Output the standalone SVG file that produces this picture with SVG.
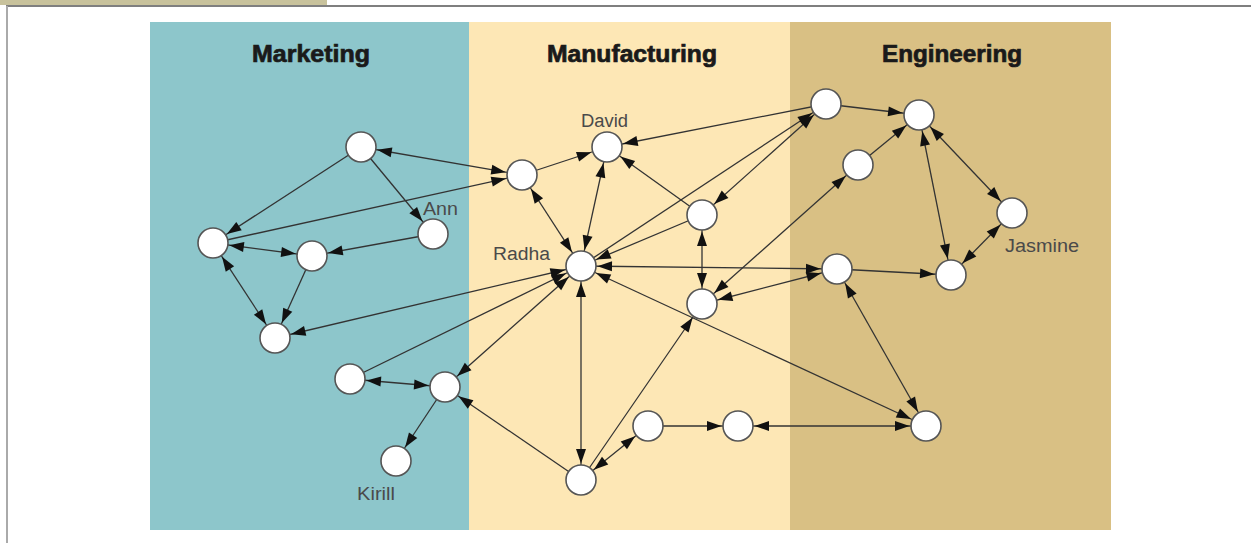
<svg xmlns="http://www.w3.org/2000/svg" width="1251" height="543" viewBox="0 0 1251 543">
<style>
.hdr{font-family:"Liberation Sans",Arial,sans-serif;font-weight:bold;font-size:23px;fill:#1a1a1a;stroke:#1a1a1a;stroke-width:0.7;text-anchor:middle}
.lbl{font-family:"Liberation Sans",Arial,sans-serif;font-size:18px;fill:#4a4a4a}
.node{fill:#ffffff;stroke:#555555;stroke-width:1.6}
#connectors line{stroke:#333333;stroke-width:1.3;fill:none}
.e{marker-end:url(#arr)}
.b{marker-end:url(#arr);marker-start:url(#arr)}
</style>
<defs>
<marker id="arr" viewBox="-16 -7 33 14" refX="16.5" refY="0" markerWidth="33" markerHeight="14" markerUnits="userSpaceOnUse" orient="auto-start-reverse">
<path d="M-14.5,-5 L0,0 L-14.5,5 Z" fill="#111111"/>
</marker>
</defs>
<rect x="0" y="0" width="1251" height="543" fill="#ffffff"/>
<rect x="0" y="0" width="327" height="5" fill="#c8c29c"/>
<line x1="6" y1="6" x2="1251" y2="6" stroke="#555555" stroke-width="1.5"/>
<line x1="7" y1="6" x2="7" y2="543" stroke="#aaaaaa" stroke-width="2"/>
<g id="panels">
<rect x="150" y="22" width="319" height="508" fill="#8dc6cb"/>
<rect x="469" y="22" width="321" height="508" fill="#fde7b5"/>
<rect x="790" y="22" width="321" height="508" fill="#d9c084"/>
<text class="hdr" x="311" y="62" textLength="118" lengthAdjust="spacingAndGlyphs">Marketing</text>
<text class="hdr" x="632" y="62" textLength="170" lengthAdjust="spacingAndGlyphs">Manufacturing</text>
<text class="hdr" x="952" y="62" textLength="140" lengthAdjust="spacingAndGlyphs">Engineering</text>
</g>
<g id="connectors">
<line class="e" x1="361" y1="147" x2="213" y2="243"/>
<line class="e" x1="361" y1="147" x2="433" y2="234"/>
<line class="e" x1="433" y1="234" x2="312" y2="256"/>
<line class="b" x1="213" y1="243" x2="312" y2="256"/>
<line class="b" x1="213" y1="243" x2="275" y2="338"/>
<line class="e" x1="312" y1="256" x2="275" y2="338"/>
<line class="e" x1="213" y1="243" x2="522" y2="175"/>
<line class="b" x1="361" y1="147" x2="522" y2="175"/>
<line class="b" x1="581" y1="266" x2="275" y2="338"/>
<line class="e" x1="350" y1="379" x2="581" y2="266"/>
<line class="b" x1="445" y1="387" x2="581" y2="266"/>
<line class="b" x1="350" y1="379" x2="445" y2="387"/>
<line class="e" x1="445" y1="387" x2="396" y2="461"/>
<line class="e" x1="581" y1="480" x2="445" y2="387"/>
<line class="e" x1="522" y1="175" x2="607" y2="147"/>
<line class="b" x1="522" y1="175" x2="581" y2="266"/>
<line class="b" x1="607" y1="147" x2="581" y2="266"/>
<line class="e" x1="826" y1="104" x2="607" y2="147"/>
<line class="e" x1="702" y1="215" x2="607" y2="147"/>
<line class="e" x1="702" y1="215" x2="581" y2="266"/>
<line class="e" x1="581" y1="266" x2="826" y2="104"/>
<line class="b" x1="702" y1="215" x2="826" y2="104"/>
<line class="b" x1="702" y1="304" x2="858" y2="165"/>
<line class="e" x1="826" y1="104" x2="919" y2="115"/>
<line class="e" x1="858" y1="165" x2="919" y2="115"/>
<line class="b" x1="919" y1="115" x2="1012" y2="213"/>
<line class="b" x1="919" y1="115" x2="951" y2="275"/>
<line class="b" x1="1012" y1="213" x2="951" y2="275"/>
<line class="e" x1="837" y1="269" x2="951" y2="275"/>
<line class="b" x1="581" y1="266" x2="837" y2="269"/>
<line class="b" x1="702" y1="304" x2="837" y2="269"/>
<line class="b" x1="702" y1="215" x2="702" y2="304"/>
<line class="e" x1="581" y1="480" x2="702" y2="304"/>
<line class="b" x1="581" y1="480" x2="648" y2="426"/>
<line class="b" x1="581" y1="266" x2="581" y2="480"/>
<line class="e" x1="648" y1="426" x2="738" y2="426"/>
<line class="b" x1="738" y1="426" x2="926" y2="426"/>
<line class="b" x1="581" y1="266" x2="926" y2="426"/>
<line class="b" x1="837" y1="269" x2="926" y2="426"/>
</g>
<g id="m1"><circle class="node" cx="361" cy="147" r="15"/></g>
<g id="m2"><circle class="node" cx="213" cy="243" r="15"/></g>
<g id="ann"><circle class="node" cx="433" cy="234" r="15"/><text class="lbl" x="423" y="215" textLength="35" lengthAdjust="spacingAndGlyphs">Ann</text></g>
<g id="m3"><circle class="node" cx="312" cy="256" r="15"/></g>
<g id="m4"><circle class="node" cx="275" cy="338" r="15"/></g>
<g id="m5"><circle class="node" cx="350" cy="379" r="15"/></g>
<g id="m6"><circle class="node" cx="445" cy="387" r="15"/></g>
<g id="kirill"><circle class="node" cx="396" cy="461" r="15"/><text class="lbl" x="357" y="500" textLength="38" lengthAdjust="spacingAndGlyphs">Kirill</text></g>
<g id="n1"><circle class="node" cx="522" cy="175" r="15"/></g>
<g id="david"><circle class="node" cx="607" cy="147" r="15"/><text class="lbl" x="581" y="127" textLength="47" lengthAdjust="spacingAndGlyphs">David</text></g>
<g id="radha"><circle class="node" cx="581" cy="266" r="15"/><text class="lbl" x="493" y="260" textLength="57" lengthAdjust="spacingAndGlyphs">Radha</text></g>
<g id="n2"><circle class="node" cx="702" cy="215" r="15"/></g>
<g id="n3"><circle class="node" cx="702" cy="304" r="15"/></g>
<g id="n4"><circle class="node" cx="581" cy="480" r="15"/></g>
<g id="n5"><circle class="node" cx="648" cy="426" r="15"/></g>
<g id="n6"><circle class="node" cx="738" cy="426" r="15"/></g>
<g id="e1"><circle class="node" cx="826" cy="104" r="15"/></g>
<g id="e2"><circle class="node" cx="919" cy="115" r="15"/></g>
<g id="e3"><circle class="node" cx="858" cy="165" r="15"/></g>
<g id="jasmine"><circle class="node" cx="1012" cy="213" r="15"/><text class="lbl" x="1005" y="252" textLength="74" lengthAdjust="spacingAndGlyphs">Jasmine</text></g>
<g id="e5"><circle class="node" cx="837" cy="269" r="15"/></g>
<g id="e6"><circle class="node" cx="951" cy="275" r="15"/></g>
<g id="e7"><circle class="node" cx="926" cy="426" r="15"/></g>
</svg>
